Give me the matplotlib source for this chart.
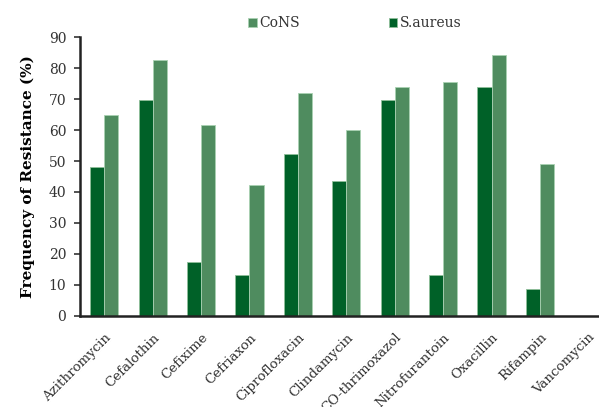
import numpy as np
import matplotlib.pyplot as plt

drugs = ["Azithromycin", "Cefalothin", "Cefixime", "Cefriaxon", "Ciprofloxacin",
         "Clindamycin", "CO-thrimoxazol", "Nitrofurantoin", "Oxacillin", "Rifampin",
         "Vancomycin"]
saureus = [48, 69.7, 17.4, 13, 52.3, 43.5, 69.7, 13.3, 74, 8.7, 0]
cons = [65, 82.7, 61.5, 42.2, 72, 60, 73.8, 75.5, 84.4, 49.2, 0]

plt.rcParams['font.family'] = 'DejaVu Serif'
fig = plt.figure(figsize=(5.99, 4.07), dpi=100)
ax = fig.add_axes([0.1336, 0.2243, 0.889, 0.6841])

x = np.arange(len(drugs))
w = 0.29
ax.bar(x - w/2, saureus, w, color="#006128", edgecolor="#8fbf9a", linewidth=0.6, label="S.aureus")
ax.bar(x + w/2, cons, w, color="#4f8c5f", edgecolor="#a9d1b2", linewidth=0.6, label="CoNS")

ax.set_xlim(-0.5, 10.5)
ax.set_ylim(0, 90)
ax.set_yticks(range(0, 91, 10))
ax.tick_params(axis='y', labelsize=10, colors='#333333', length=4, width=1.2, pad=6)
ax.tick_params(axis='x', length=0, labelsize=9.6, colors='#333333', pad=11)
ax.set_xticks(x)
ax.set_xticklabels(drugs, rotation=45, ha='right', rotation_mode='anchor')
for s in ['top', 'right']:
    ax.spines[s].set_visible(False)
for s in ['left', 'bottom']:
    ax.spines[s].set_linewidth(1.8)
    ax.spines[s].set_color('#222222')
ax.set_ylabel("Frequency of Resistance (%)", fontsize=11, fontweight='bold', labelpad=10)

h, l = ax.get_legend_handles_labels()
fig.legend(h[::-1], l[::-1], loc='center', bbox_to_anchor=(0.593, 0.943), ncol=2, frameon=False,
           fontsize=10, handlelength=0.6, handleheight=0.6, handletextpad=0.2, columnspacing=6.4,
           labelcolor='#333333')

fig.savefig("out.png", dpi=100)
